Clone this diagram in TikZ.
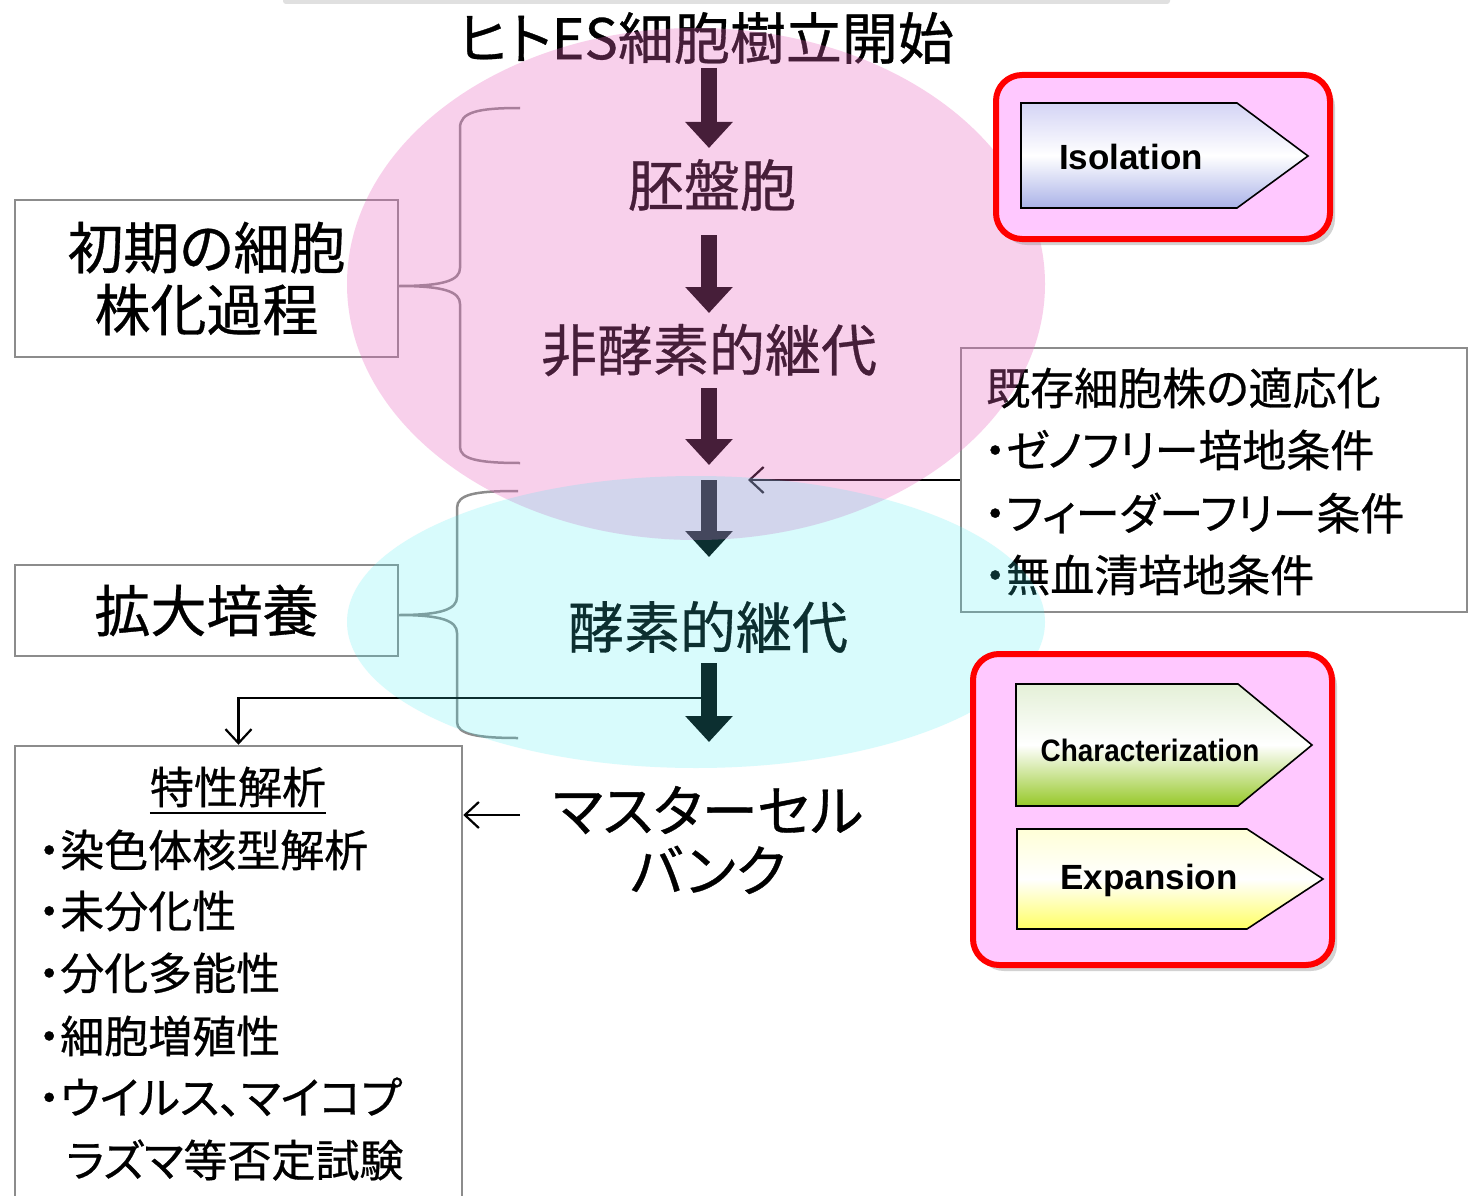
\documentclass[tikz,border=0pt]{standalone}
\usepackage{fontspec}
\setmainfont{Noto Sans CJK JP}[RawFeature={+palt}, FakeBold=0.6]
\newfontfamily\enf{Liberation Sans}
\usetikzlibrary{arrows.meta,calc,shadows}
\definecolor{pinkov}{RGB}{235,100,190}
\definecolor{cyanov}{RGB}{60,235,240}
\definecolor{boxgray}{RGB}{140,140,140}
\definecolor{pinkfill}{RGB}{255,200,255}
\definecolor{isoTop}{RGB}{212,212,245}
\definecolor{isoBot}{RGB}{170,178,232}
\definecolor{chTop}{RGB}{228,240,215}
\definecolor{chBot}{RGB}{150,200,40}
\definecolor{exTop}{RGB}{255,255,215}
\definecolor{exBot}{RGB}{255,255,100}
\newcommand\fsz[1]{\fontsize{#1}{#1}\selectfont}
\begin{document}
\begin{tikzpicture}[x=1pt,y=-1pt,
  graybox/.style={draw=boxgray, line width=2.5pt, inner sep=0pt},
  big/.style={font=\fsz{56}, inner sep=0pt},
  sm/.style={font=\fsz{44}, inner sep=0pt, anchor=west},
  bracestyle/.style={draw=boxgray, line width=2.5pt},
  blk/.style={line width=16pt, draw=black, -{Triangle[width=46pt,length=26pt]}},
  thinarr/.style={line width=2.4pt, draw=black, -{Straight Barb[length=14pt,width=26pt,line width=2.2pt]}},
  redbox/.style={draw=red, line width=6pt, fill=pinkfill, rounded corners=26pt,
     drop shadow={shadow xshift=5pt, shadow yshift=-6pt, opacity=0.35}},
  penta/.style={draw=black, line width=1.6pt},
  entext/.style={font=\enf\bfseries, inner sep=0pt}]
\useasboundingbox[fill=white] (0,0) rectangle (1470,1196);

% faint strip at top
\fill[black!12, rounded corners=3pt] (283,-12) rectangle (1170,4);

% boxes
\node[graybox, minimum width=383pt, minimum height=157pt, align=center,
      font=\fontsize{56}{62}\selectfont] (init) at (206.5,278.5) {初期の細胞\\株化過程};
\node[graybox, minimum width=383pt, minimum height=91pt, font=\fsz{56}] (expand) at (206.5,610.5) {拡大培養};
\node[graybox, minimum width=447pt, minimum height=470pt] (charact) at (238.5,981) {};
\node[graybox, minimum width=506pt, minimum height=264pt] (adapt) at (1214,480) {};

% main flow texts
\node[big] (title) at (706,38) {ヒトES細胞樹立開始};
\node[big] (blast) at (712,185) {胚盤胞};
\node[big] (nonenz) at (709,350) {非酵素的継代};
\node[big] (enz) at (708,627) {酵素的継代};
\node[big, align=center, font=\fontsize{56}{60}\selectfont] (mcb) at (708,840) {マスターセル\\バンク};

% adaptation texts
\node[sm] (ad0) at (986,388) {既存細胞株の適応化};
\node[sm] (ad1) at (984,450) {・ゼノフリー培地条件};
\node[sm] (ad2) at (984,513) {・フィーダーフリー条件};
\node[sm] (ad3) at (984,575) {・無血清培地条件};

% characterization texts
\node[sm, anchor=center] (ch0) at (238,787) {特性解析};
\draw[line width=2pt] ([yshift=-9pt]ch0.base west) -- ([yshift=-9pt]ch0.base east);
\node[sm] (ch1) at (38,850) {・染色体核型解析};
\node[sm] (ch2) at (38,911) {・未分化性};
\node[sm] (ch3) at (38,973) {・分化多能性};
\node[sm] (ch4) at (38,1036) {・細胞増殖性};
\node[sm] (ch5) at (38,1097) {・ウイルス、マイコプ};
\node[sm] (ch6) at (66,1160) {ラズマ等否定試験};

% braces
\draw[bracestyle] (520,108) .. controls (478,108) and (460,112) .. (460,128) -- (460,268)
  .. controls (460,280) and (445,286) .. (init.east |- 0,286)
  .. controls (445,286) and (460,292) .. (460,304) -- (460,447)
  .. controls (460,459) and (478,463) .. (520,463);
\draw[bracestyle] (518,491) .. controls (476,491) and (457,494) .. (457,508) -- (457,597)
  .. controls (457,609) and (442,615) .. (expand.east |- 0,615)
  .. controls (442,615) and (457,621) .. (457,633) -- (457,722)
  .. controls (457,734) and (476,738) .. (518,738);

% block arrows
\coordinate (a1s) at (709,68);  \coordinate (a1e) at (709,148);
\coordinate (a2s) at (709,235); \coordinate (a2e) at (709,313);
\coordinate (a3s) at (709,388); \coordinate (join) at (709,465);
\coordinate (a4s) at (709,480); \coordinate (a4e) at (709,557);
\coordinate (a5s) at (709,663); \coordinate (a5e) at (709,742);
\draw[blk] (a1s) -- (a1e);
\draw[blk] (a2s) -- (a2e);
\draw[blk] (a3s) -- (join);
\draw[blk] (a4s) -- (a4e);
\draw[blk] (a5s) -- (a5e);

% thin arrows
\coordinate (feedtip) at (748,480);
\draw[thinarr] (adapt.west) -- (feedtip);
\coordinate (branch) at (701,698);
\draw[thinarr] (branch) -| (charact.north);
\coordinate (mcbtail) at (520,815);
\draw[thinarr] (mcbtail) -- (mcbtail -| charact.east);

% translucent ellipses
\fill[pinkov, opacity=0.3] (696,284) ellipse [x radius=349pt, y radius=256pt];
\fill[cyanov, opacity=0.2] (696,622) ellipse [x radius=349pt, y radius=146pt];

% red boxes
\node[redbox, minimum width=334pt, minimum height=164pt] (isobox) at (1163,157) {};
\shadedraw[penta, top color=isoTop, bottom color=isoBot, middle color=white]
  (1021,103) -- (1237,103) -- (1308,156) -- (1237,208) -- (1021,208) -- cycle;
\node[entext, font=\enf\bfseries\fsz{35}] (iso) at (1131,157) {Isolation};

\node[redbox, minimum width=359pt, minimum height=311pt] (cebox) at (1152.5,809.5) {};
\shadedraw[penta, top color=chTop, bottom color=chBot, middle color=white]
  (1016,684) -- (1238,684) -- (1312,745) -- (1238,806) -- (1016,806) -- cycle;
\node[entext, font=\enf\bfseries\fsz{31}, xscale=0.9] (chr) at (1150,750) {Characterization};
\shadedraw[penta, top color=exTop, bottom color=exBot, middle color=white]
  (1017,829) -- (1247,829) -- (1323,879) -- (1247,929) -- (1017,929) -- cycle;
\node[entext, font=\enf\bfseries\fsz{35}] (exp) at (1149,880) {Expansion};
\end{tikzpicture}
\end{document}
